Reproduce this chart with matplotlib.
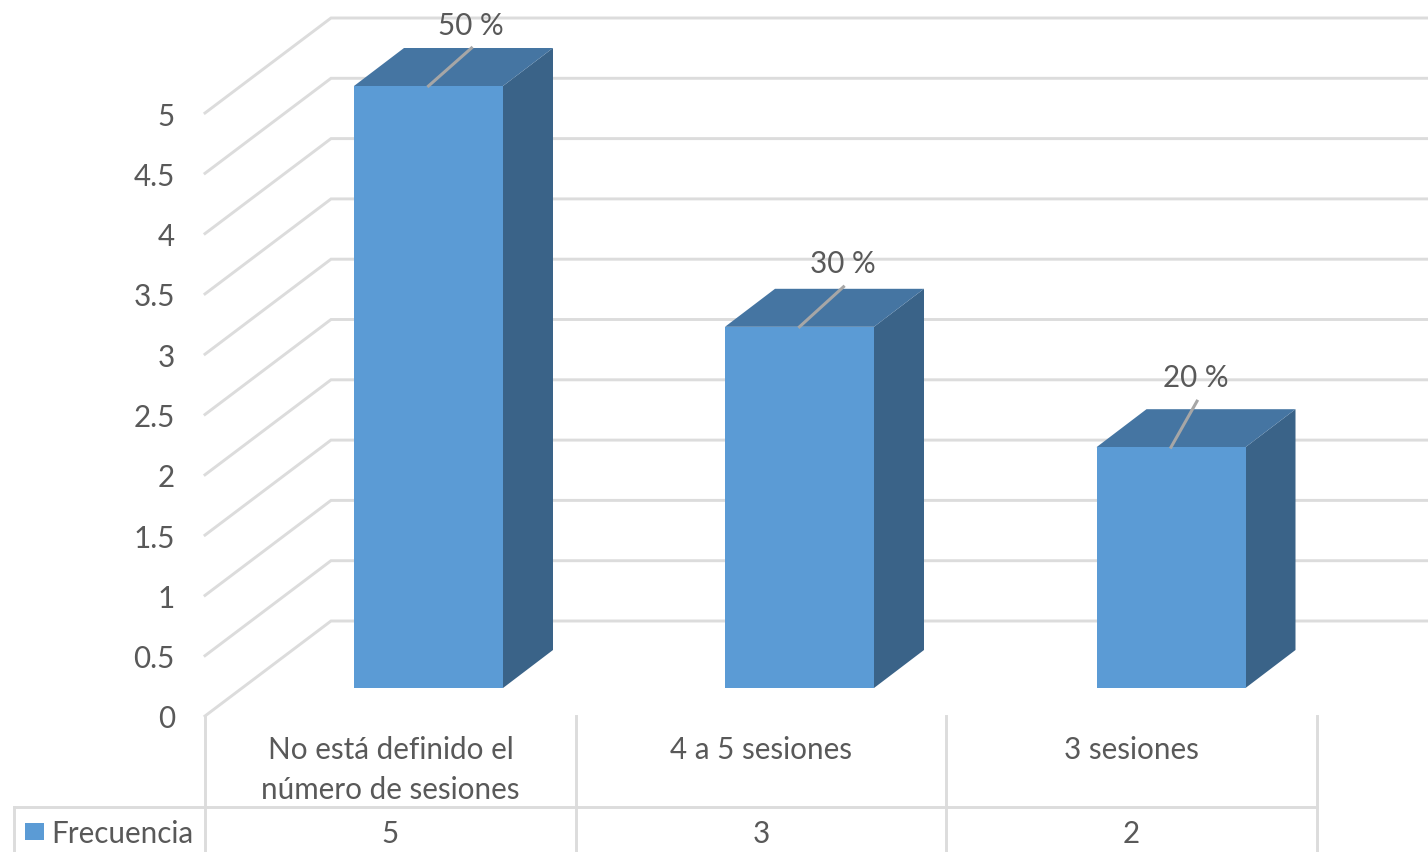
import numpy as np
from matplotlib import pyplot as plt
from matplotlib.patches import Polygon

categories = ["No está definido el\nnúmero de sesiones", "4 a 5 sesiones", "3 sesiones"]
frecuencia = [5, 3, 2]
pct_labels = ["50 %", "30 %", "20 %"]
y_ticks = [0, 0.5, 1, 1.5, 2, 2.5, 3, 3.5, 4, 4.5, 5]
y_tick_labels = ["0", "0.5", "1", "1.5", "2", "2.5", "3", "3.5", "4", "4.5", "5"]
series_name = "Frecuencia"

plt.rcParams['font.family'] = ['Lato', 'DejaVu Sans']
TXT = '#595959'
GRID = '#dcdcdc'
FRONT = '#5b9bd5'
TOP = '#4575a2'
SIDE = '#3a6388'
FS = 21.3

fig = plt.figure(figsize=(14.28, 8.53), dpi=100)
ax = fig.add_axes([0, 0, 1, 1])
ax.set_xlim(0, 1428)
ax.set_ylim(853, 0)
ax.axis('off')


def wall_y(v):
    return 717 - v * 120.6


def bar_y(v):
    return 689 - v * 120.4


# walls
for v, lab in zip(y_ticks, y_tick_labels):
    y = wall_y(v)
    ax.plot([205, 331, 1428], [y, y - 95, y - 95], color=GRID, lw=2.1, zorder=1, solid_joinstyle='miter')
    ax.text(175, y + 2.5, lab, ha='right', va='center', fontsize=FS, color=TXT)

# bars
bar_left = [354, 725, 1096.5]
bar_w = 149
ddx, ddy = 50, -38
# leader line end, relative to the middle of the front top edge
leader_dx = [43, 44, 26]
leader_dy = [-38, -40, -46]
label_dy = [-61, -64, -70]
for i, (left, val, pct) in enumerate(zip(bar_left, frecuencia, pct_labels)):
    r = left + bar_w
    t = bar_y(val)
    b = bar_y(0)
    ax.add_patch(Polygon([(r, t), (r + ddx, t + ddy), (r + ddx, b + ddy), (r, b)], fc=SIDE, ec='none', zorder=3))
    ax.add_patch(Polygon([(left, t), (r, t), (r + ddx, t + ddy), (left + ddx, t + ddy)], fc=TOP, ec='none', zorder=3))
    ax.add_patch(Polygon([(left, t), (r, t), (r, b), (left, b)], fc=FRONT, ec='none', zorder=4))
    cx = left + bar_w / 2
    ax.plot([cx, cx + leader_dx[i]], [t, t + leader_dy[i]], color='#a6a6a6', lw=2.2, zorder=5)
    ax.text(cx + leader_dx[i] - 1, t + label_dy[i], pct, ha='center', va='center', fontsize=FS, color=TXT, zorder=6)

# data table
col_x = [205, 576, 946, 1317]
for x in col_x:
    ax.plot([x, x], [717, 853], color=GRID, lw=2.1, zorder=1)
ax.plot([14, 1317], [808, 808], color=GRID, lw=2.1, zorder=1)
ax.plot([14, 14], [808, 853], color=GRID, lw=2.1, zorder=1)

for i, (cat, val) in enumerate(zip(categories, frecuencia)):
    cx = (col_x[i] + col_x[i + 1]) / 2
    lines = cat.split("\n")
    for j, line in enumerate(lines):
        ax.text(cx, 750 + j * 40, line, ha='center', va='center', fontsize=FS, color=TXT)
    ax.text(cx, 834, str(val), ha='center', va='center', fontsize=FS, color=TXT)

ax.add_patch(Polygon([(25, 824), (44, 824), (44, 841), (25, 841)], fc=FRONT, ec='none'))
ax.text(51, 834, series_name, ha='left', va='center', fontsize=FS, color=TXT)

fig.savefig('out.png', dpi=100)
